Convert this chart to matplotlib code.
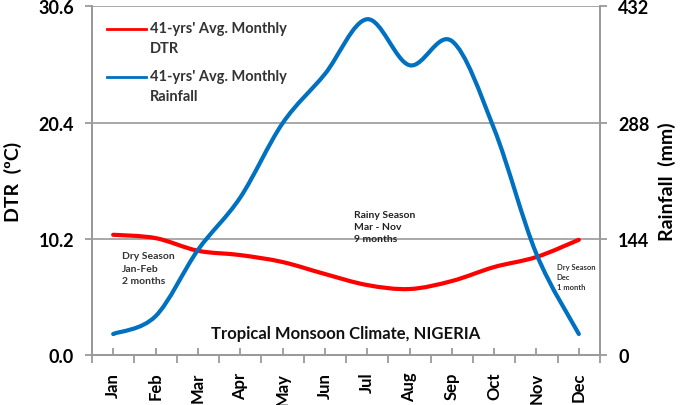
import matplotlib
matplotlib.use("Agg")
import matplotlib.pyplot as plt
import numpy as np
from matplotlib.path import Path
from matplotlib.patches import PathPatch

months = ["Jan", "Feb", "Mar", "Apr", "May", "Jun",
          "Jul", "Aug", "Sep", "Oct", "Nov", "Dec"]
dtr = [10.55, 10.26, 9.15, 8.77, 8.16, 7.11, 6.14, 5.79, 6.49, 7.72, 8.60, 10.11]
rainfall = [26, 48, 130, 195, 287, 348, 416, 359, 389, 280, 125, 26]

dtr_ticks = [0.0, 10.2, 20.4, 30.6]
rain_ticks = [0, 144, 288, 432]

GRAY = "#9a9a9a"
RED = "#ff0000"
BLUE = "#0070c0"

plt.rcParams["font.family"] = ["Lato", "DejaVu Sans"]


def smooth_path(x, y):
    # Excel-style smoothed line: cubic Bezier through every point
    x = np.asarray(x, float)
    y = np.asarray(y, float)
    n = len(x)
    verts = [(x[0], y[0])]
    codes = [Path.MOVETO]
    for i in range(n - 1):
        x0, y0 = (x[i - 1], y[i - 1]) if i > 0 else (x[i], y[i])
        x3, y3 = (x[i + 2], y[i + 2]) if i + 2 < n else (x[i + 1], y[i + 1])
        c1 = (x[i] + (x[i + 1] - x0) / 6, y[i] + (y[i + 1] - y0) / 6)
        c2 = (x[i + 1] - (x3 - x[i]) / 6, y[i + 1] - (y3 - y[i]) / 6)
        verts += [c1, c2, (x[i + 1], y[i + 1])]
        codes += [Path.CURVE4] * 3
    return Path(verts, codes)


fig = plt.figure(figsize=(6.85, 4.06), dpi=100)
ax = fig.add_axes([92 / 685, 50 / 406, 508 / 685, 348.7 / 406])
ax2 = ax.twinx()

xpos = np.arange(len(months))
ax.set_xlim(-0.5, len(months) - 0.5)
ax.set_ylim(0, 30.6)
ax2.set_ylim(0, 432)

ax.add_patch(PathPatch(smooth_path(xpos, dtr), fill=False, edgecolor=RED,
                       lw=3.0, capstyle="round", zorder=3))
ax2.add_patch(PathPatch(smooth_path(xpos, rainfall), fill=False, edgecolor=BLUE,
                        lw=3.0, capstyle="round", zorder=3))

for v in dtr_ticks[1:]:
    ax.axhline(v, color=GRAY, lw=1.2, zorder=1)

for a in (ax, ax2):
    for s in a.spines.values():
        s.set_color(GRAY)
        s.set_linewidth(1.3)
    a.spines["top"].set_visible(False)

ax.set_yticks(dtr_ticks)
ax.set_yticklabels([f"{v:.1f}" for v in dtr_ticks], fontsize=13, fontweight="bold")
ax2.set_yticks(rain_ticks)
ax2.set_yticklabels([str(v) for v in rain_ticks], fontsize=13, fontweight="bold")
ax.tick_params(axis="y", length=5, width=1.3, color=GRAY, pad=8)
ax2.tick_params(axis="y", length=5, width=1.3, color=GRAY, pad=8)

ax.set_xticks(np.arange(-0.5, len(months), 1.0))
ax.set_xticklabels([])
ax.set_xticks(xpos, minor=True)
ax.set_xticklabels(months, minor=True, rotation=90, fontsize=12, fontweight="bold")
ax.tick_params(axis="x", which="major", length=6, width=1.3, color=GRAY, direction="out")
ax.tick_params(axis="x", which="minor", length=5, width=1.3, color=GRAY,
               direction="in", pad=12)

ax.set_ylabel("DTR  (ºC)", fontsize=14, fontweight="bold", labelpad=12)
ax2.set_ylabel("Rainfall  (mm)", fontsize=14, fontweight="bold", labelpad=6)

# legend drawn by hand so the key line sits on the first text row
legend_items = [(RED, "41-yrs' Avg. Monthly\nDTR", 0.935),
                (BLUE, "41-yrs' Avg. Monthly\nRainfall", 0.797)]
for color, label, ly in legend_items:
    ax.plot([0.029, 0.106], [ly, ly], color=color, lw=2, transform=ax.transAxes,
            clip_on=False)
    ax.text(0.114, ly + 0.022, label, transform=ax.transAxes, fontsize=10.5,
            fontweight="bold", color="#333333", va="top", linespacing=1.55)

ax.text(0.059, 0.298, "Dry Season\nJan-Feb\n2 months", transform=ax.transAxes,
        fontsize=7.5, fontweight="bold", color="#333333", va="top", linespacing=1.5)
ax.text(0.515, 0.415, "Rainy Season\nMar - Nov\n9 months", transform=ax.transAxes,
        fontsize=7.5, fontweight="bold", color="#222222", va="top", linespacing=1.4)
ax.text(0.915, 0.265, "Dry Season\nDec\n1 month", transform=ax.transAxes,
        fontsize=5.5, fontweight="bold", color="#333333", va="top", linespacing=1.5)
ax.text(0.5, 0.063, "Tropical Monsoon Climate, NIGERIA", transform=ax.transAxes,
        fontsize=12, fontweight="bold", color="#111111", ha="center", va="center")

fig.savefig("out.png", dpi=100)
